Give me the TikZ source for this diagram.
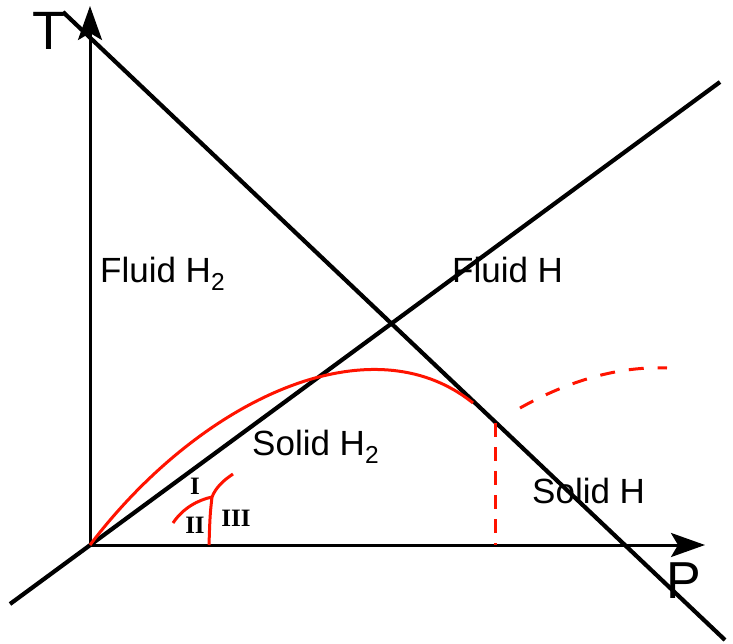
\documentclass[tikz,border=0pt]{standalone}
\usepackage{fontspec}
\setmainfont{Liberation Sans}
\newfontfamily\romfont{Liberation Serif}
\usetikzlibrary{arrows.meta}

\begin{document}
\begin{tikzpicture}[x=1pt, y=-1pt, >={Stealth[length=34pt, width=24pt, inset=7pt]},
    font=\fontsize{35}{40}\selectfont,
    phase/.style={red!85!orange, line width=3pt},
    edge/.style={line width=4.2pt},
    roman/.style={font=\romfont\bfseries\fontsize{25}{28}\selectfont}]
  \useasboundingbox (0,0) rectangle (733,644);
  % axes
  \coordinate (O) at (90,545);
  \draw[->, line width=3pt] (O) -- (90,6) coordinate (Ttip);
  \draw[->, line width=3pt] (O) -- (705,545) coordinate (Ptip);
  \node[font=\fontsize{54}{60}\selectfont] (T) at (49,31) {T};
  \node[font=\fontsize{52}{58}\selectfont] (P) at (684,581) {P};
  % the two straight lines
  \draw[edge] (10,604) -- (720,82);
  \draw[edge] (63,12) -- (725,640);
  % melting line
  \draw[phase] (O) .. controls (200,400) and (370,320) .. (473,403);
  \draw[phase, dashed, dash pattern=on 14pt off 10pt] (495,423) -- (495,545);
  \draw[phase, dashed, dash pattern=on 15pt off 14pt] (520,408) .. controls (570,380) and (620,366) .. (667,368);
  % phases I, II, III
  \coordinate (J) at (212,497);
  \draw[phase] (173,523) .. controls (183,508) and (198,500) .. (J);
  \draw[phase] (J) .. controls (216,487) and (224,480) .. (233,474);
  \draw[phase] (J) .. controls (210,515) .. (209,545);
  \node[roman] (I) at (195,486) {I};
  \node[roman] (II) at (195,525) {II};
  \node[roman] (III) at (236,518) {III};
  % labels
  \node[anchor=base west, inner sep=0pt] (fluidH2) at (100,282) {Fluid H\textsubscript{2}};
  \node[anchor=base west, inner sep=0pt] (fluidH) at (452,282) {Fluid H};
  \node[anchor=base west, inner sep=0pt] (solidH2) at (252,455) {Solid H\textsubscript{2}};
  \node[anchor=base west, inner sep=0pt] (solidH) at (532,503) {Solid H};
\end{tikzpicture}
\end{document}
